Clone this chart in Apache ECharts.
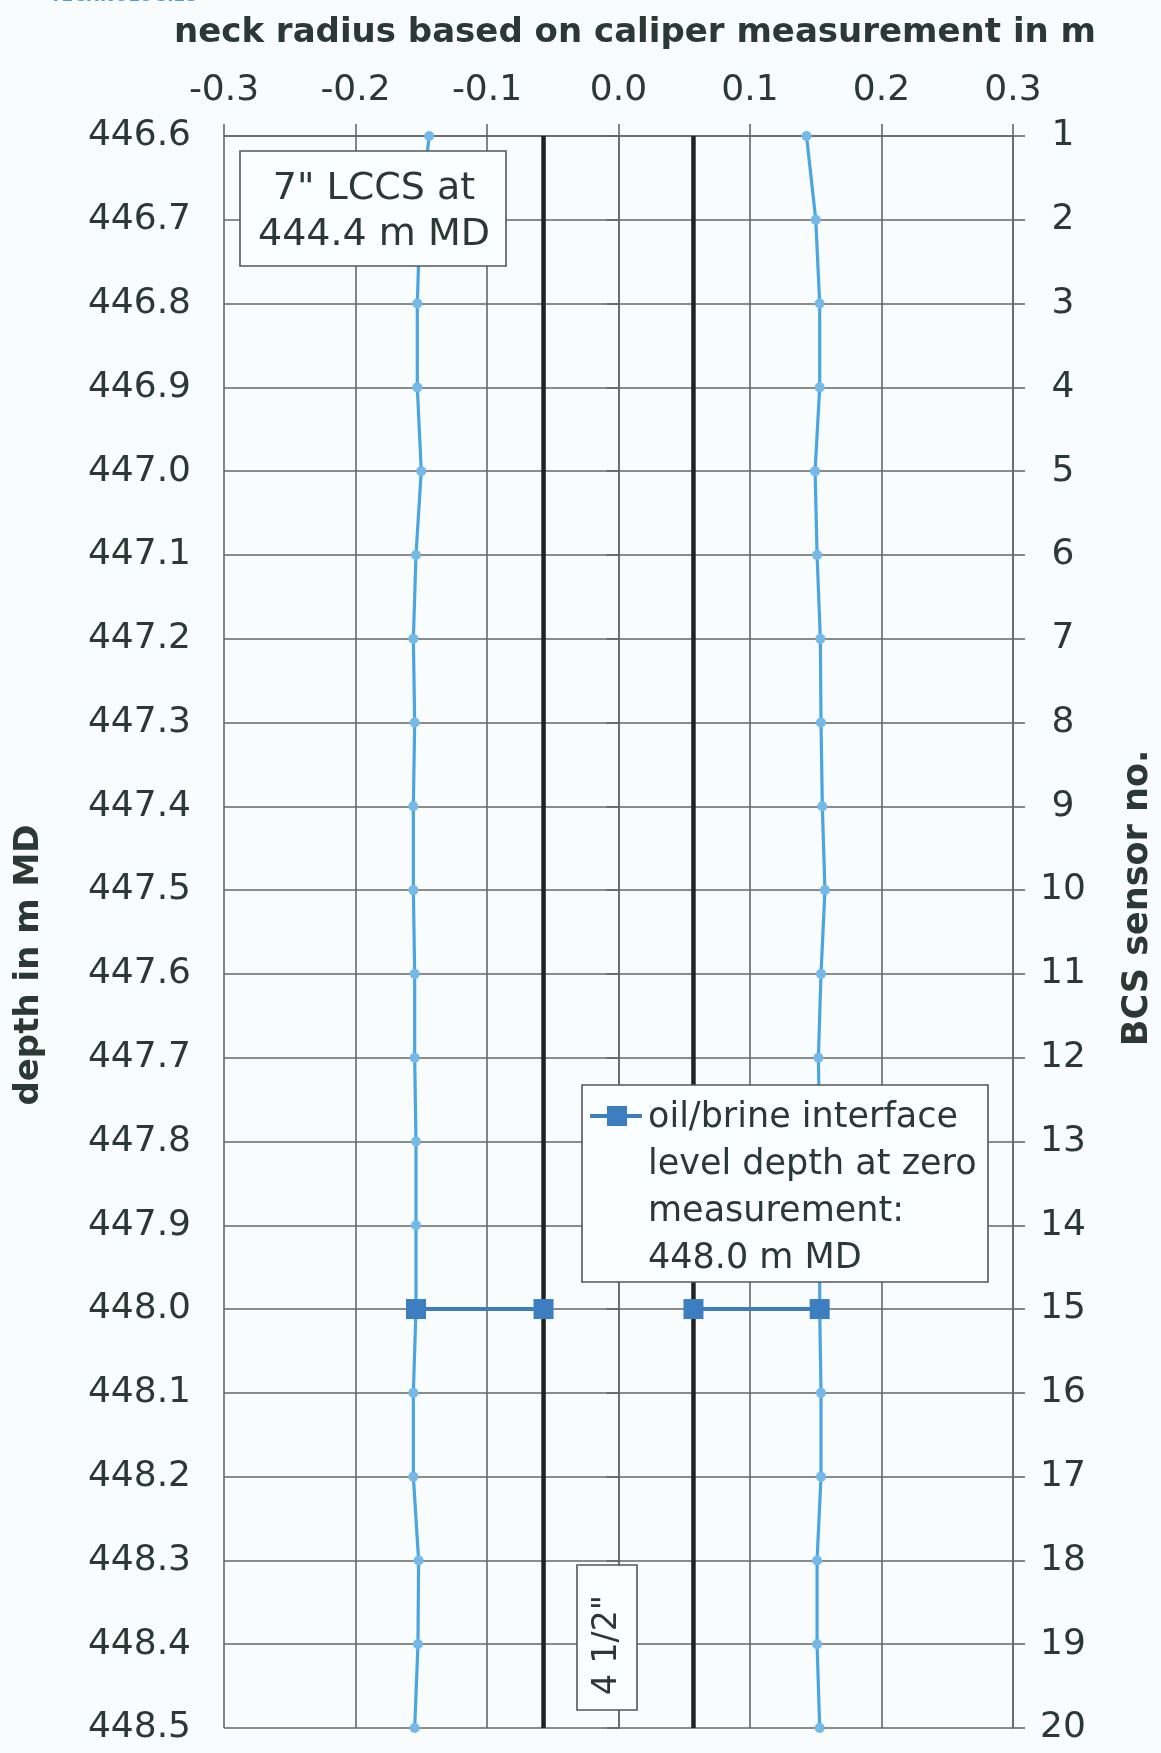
<!DOCTYPE html>
<html>
<head>
<meta charset="utf-8">
<script src="https://cdn.jsdelivr.net/npm/echarts@6/dist/echarts.min.js"></script>
<style>
html,body{margin:0;padding:0;background:#f8fcfc;}
#c{width:1161px;height:1753px;}
</style>
</head>
<body>
<div id="c"></div>
<script>
// ---- data ----
const depths = [446.6, 446.7, 446.8, 446.9, 447.0, 447.1, 447.2, 447.3, 447.4, 447.5,
                447.6, 447.7, 447.8, 447.9, 448.0, 448.1, 448.2, 448.3, 448.4, 448.5];
const sensorNo = [1, 2, 3, 4, 5, 6, 7, 8, 9, 10, 11, 12, 13, 14, 15, 16, 17, 18, 19, 20];
const leftRadius = [-0.144, -0.151, -0.153, -0.153, -0.150, -0.154, -0.156, -0.155, -0.156, -0.156,
                    -0.155, -0.155, -0.154, -0.154, -0.154, -0.156, -0.156, -0.152, -0.1525, -0.155];
const rightRadius = [0.143, 0.150, 0.153, 0.153, 0.1495, 0.151, 0.1535, 0.154, 0.155, 0.157,
                     0.154, 0.152, 0.153, 0.153, 0.153, 0.154, 0.154, 0.151, 0.151, 0.153];
const casingRadius = [-0.057, 0.057];
const casingDepth = [446.6, 448.5];
const interfaceDepth = 448.0;
const interfaceLeftX = [-0.154, -0.057];
const interfaceRightX = [0.057, 0.153];
const xTicks = [-0.3, 0.3, 0.1];      // min, max, interval
const depthTicks = [446.6, 448.5, 0.1];
const sensorTicks = [1, 20, 1];

// ---- styling ----
const FONT = '"DejaVu Sans", "Liberation Sans", Arial, sans-serif';
const TXT = '#2b3833';
const GRID = '#666';
const BLUE = '#4ba5e0';
const DARKBLUE = '#3c7ec0';

const chart = echarts.init(document.getElementById('c'), null, {renderer: 'canvas'});

const lineStyleGrid = {color: GRID, width: 1.6};

function pairs(xs, ys) { return xs.map((x, i) => [x, ys[i]]); }

const option = {
  backgroundColor: '#f8fcfc',
  animation: false,
  grid: {left: 224, right: 148, top: 136, bottom: 25},
  xAxis: {
    type: 'value', position: 'top',
    min: xTicks[0], max: xTicks[1], interval: xTicks[2],
    axisLine: {show: true, lineStyle: lineStyleGrid},
    axisTick: {show: true, inside: false, length: 12, lineStyle: lineStyleGrid},
    axisLabel: {
      margin: 27, fontSize: 36, fontFamily: FONT, color: TXT,
      formatter: v => (Math.abs(v) < 1e-9 ? 0 : v).toFixed(1)
    },
    splitLine: {show: true, lineStyle: lineStyleGrid}
  },
  yAxis: [
    {
      type: 'value', position: 'left', inverse: true,
      min: depthTicks[0], max: depthTicks[1], interval: depthTicks[2],
      axisLine: {show: true, lineStyle: lineStyleGrid},
      axisTick: {show: true, inside: false, length: 12, lineStyle: lineStyleGrid},
      axisLabel: {margin: 33, fontSize: 36, fontFamily: FONT, color: TXT,
                  formatter: v => v.toFixed(1)},
      splitLine: {show: true, lineStyle: lineStyleGrid}
    },
    {
      type: 'value', position: 'right', inverse: true,
      min: sensorTicks[0], max: sensorTicks[1], interval: sensorTicks[2],
      axisLine: {show: true, lineStyle: lineStyleGrid},
      axisTick: {show: true, inside: false, length: 12, lineStyle: lineStyleGrid},
      axisLabel: {margin: 50, align: 'center', fontSize: 36, fontFamily: FONT, color: TXT,
                  formatter: v => String(Math.round(v))},
      splitLine: {show: false}
    }
  ],
  series: [
    {
      name: 'casing left', type: 'line', yAxisIndex: 0, z: 2, clip: false,
      data: pairs([casingRadius[0], casingRadius[0]], casingDepth),
      symbol: 'none', lineStyle: {color: '#222', width: 4.5}
    },
    {
      name: 'casing right', type: 'line', yAxisIndex: 0, z: 2, clip: false,
      data: pairs([casingRadius[1], casingRadius[1]], casingDepth),
      symbol: 'none', lineStyle: {color: '#222', width: 4.5}
    },
    {
      name: 'caliper left', type: 'line', yAxisIndex: 0, z: 3, clip: false,
      data: pairs(leftRadius, depths),
      symbol: 'circle', symbolSize: 10,
      itemStyle: {color: '#74b9e8'},
      lineStyle: {color: BLUE, width: 3.2}
    },
    {
      name: 'caliper right', type: 'line', yAxisIndex: 0, z: 3, clip: false,
      data: pairs(rightRadius, depths),
      symbol: 'circle', symbolSize: 10,
      itemStyle: {color: '#74b9e8'},
      lineStyle: {color: BLUE, width: 3.2}
    },
    {
      name: 'oil/brine interface', type: 'line', yAxisIndex: 0, z: 4, clip: false,
      data: interfaceLeftX.map(x => [x, interfaceDepth]),
      symbol: 'rect', symbolSize: 20,
      itemStyle: {color: DARKBLUE},
      lineStyle: {color: DARKBLUE, width: 4}
    },
    {
      name: 'oil/brine interface', type: 'line', yAxisIndex: 0, z: 4, clip: false,
      data: interfaceRightX.map(x => [x, interfaceDepth]),
      symbol: 'rect', symbolSize: 20,
      itemStyle: {color: DARKBLUE},
      lineStyle: {color: DARKBLUE, width: 4}
    }
  ],
  graphic: [
    // cut-off header at very top
    {type: 'text', z: 100, x: 50, y: 5,
     style: {text: 'TECHNOLOGIES', font: 'bold 17px ' + FONT, fill: '#4a9fd8',
             align: 'left', verticalAlign: 'bottom'}},
    // title
    {type: 'text', z: 100, x: 635, y: 33,
     style: {text: 'neck radius based on caliper measurement in m', font: 'bold 34px ' + FONT,
             fill: TXT, align: 'center', verticalAlign: 'middle'}},
    // left axis name
    {type: 'text', z: 100, x: 29, y: 965, rotation: Math.PI / 2,
     style: {text: 'depth in m MD', font: 'bold 34px ' + FONT, fill: TXT,
             align: 'center', verticalAlign: 'middle'}},
    // right axis name
    {type: 'text', z: 100, x: 1138, y: 898, rotation: Math.PI / 2,
     style: {text: 'BCS sensor no.', font: 'bold 35px ' + FONT, fill: TXT,
             align: 'center', verticalAlign: 'middle'}},
    // LCCS box
    {type: 'rect', z: 100, shape: {x: 240, y: 151, width: 266, height: 115},
     style: {fill: '#fbfefe', stroke: '#555', lineWidth: 1.6}},
    {type: 'text', z: 101, x: 374, y: 189,
     style: {text: '7" LCCS at', font: '38px ' + FONT, fill: TXT, align: 'center', verticalAlign: 'middle'}},
    {type: 'text', z: 101, x: 374, y: 235,
     style: {text: '444.4 m MD', font: '38px ' + FONT, fill: TXT, align: 'center', verticalAlign: 'middle'}},
    // legend box
    {type: 'rect', z: 100, shape: {x: 582, y: 1085, width: 406, height: 197},
     style: {fill: '#fbfefe', stroke: '#555', lineWidth: 1.6}},
    {type: 'line', z: 101, shape: {x1: 590, y1: 1116, x2: 642, y2: 1116},
     style: {stroke: DARKBLUE, lineWidth: 4}},
    {type: 'rect', z: 102, shape: {x: 607, y: 1106, width: 20, height: 20},
     style: {fill: DARKBLUE}},
    {type: 'text', z: 101, x: 648, y: 1094,
     style: {text: 'oil/brine interface\nlevel depth at zero\nmeasurement:\n448.0 m MD',
             font: '35px ' + FONT, lineHeight: 47, fill: TXT, align: 'left', verticalAlign: 'top'}},
    // 4 1/2" box
    {type: 'rect', z: 100, shape: {x: 577, y: 1565, width: 60, height: 145},
     style: {fill: '#fbfefe', stroke: '#555', lineWidth: 1.6}},
    {type: 'text', z: 101, x: 607, y: 1645, rotation: Math.PI / 2,
     style: {text: '4 1/2"', font: '33px ' + FONT, fill: TXT, align: 'center', verticalAlign: 'middle'}}
  ]
};
chart.setOption(option);
</script>
</body>
</html>
